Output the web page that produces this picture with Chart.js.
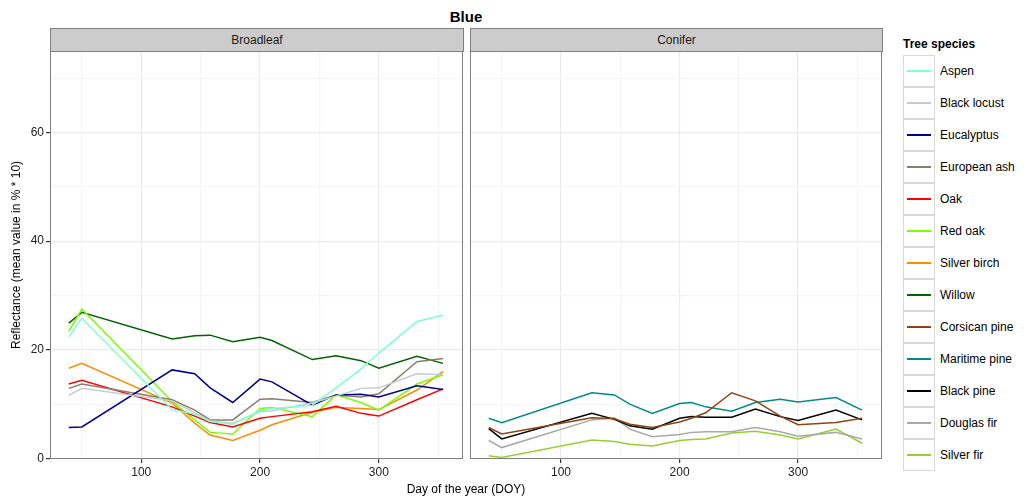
<!DOCTYPE html>
<html>
<head>
<meta charset="utf-8">
<script src="https://cdn.jsdelivr.net/npm/chart.js@4/dist/chart.umd.min.js"></script>
<style>
  body { margin: 0; background: #fff; font-family: "Liberation Sans", Arial, sans-serif; }
  #wrap { position: relative; width: 1024px; height: 498px; overflow: hidden; }
  .abs { position: absolute; }
  #title { left: 0; width: 932px; top: 8px; text-align: center; font-weight: bold; font-size: 15px; color: #000; }
  .strip { box-sizing: border-box; top: 28px; height: 24px; background: #cccccc; border: 1px solid #7f7f7f;
           text-align: center; font-size: 12px; line-height: 22px; color: #1a1a1a; }
  #ytitle { left: 16px; top: 255px; transform: translate(-50%, -50%) rotate(-90deg); white-space: nowrap; font-size: 12px; color: #000; }
  #xtitle { left: 50px; width: 832px; top: 482px; text-align: center; font-size: 12px; color: #000; }
  #legTitle { left: 903px; top: 37px; font-weight: bold; font-size: 12px; color: #000; }
  .key { box-sizing: border-box; left: 903px; width: 32px; height: 32px; border: 1px solid #d9d9d9; background: #fff; }
  .key span { position: absolute; left: 3px; right: 3px; top: 14px; height: 2px; }
  .lab { left: 940px; font-size: 12px; line-height: 32px; color: #000; white-space: nowrap; }
</style>
</head>
<body>
<div id="wrap">
  <div id="title" class="abs">Blue</div>
  <div class="abs strip" style="left:50px;width:414px;">Broadleaf</div>
  <div class="abs strip" style="left:470px;width:413px;">Conifer</div>
  <canvas id="left" class="abs" style="left:0;top:51px;" width="466" height="447"></canvas>
  <canvas id="right" class="abs" style="left:466px;top:51px;" width="420" height="447"></canvas>
  <div id="ytitle" class="abs">Reflectance (mean value in % * 10)</div>
  <div id="xtitle" class="abs">Day of the year (DOY)</div>
  <div id="legTitle" class="abs">Tree species</div>
  <div id="legend"></div>
</div>
<script>
const doy = [39, 50, 126, 145, 158, 177, 200, 210, 222, 244, 264, 285, 300, 332, 354];

// Broadleaf (no acquisition at DOY 222)
const aspen       = [22.4, 25.8, 9.0, 8.2, 6.8, 6.3, 8.8, 9.2, null, 9.8, 13.0, 16.5, 19.4, 25.2, 26.4];
const blackLocust = [11.6, 12.9, 10.6, 8.4, 6.9, 6.5, 8.6, 8.8, null, 10.2, 11.5, 12.9, 13.0, 15.6, 15.4];
const eucalyptus  = [5.7, 5.8, 16.3, 15.6, 13.0, 10.3, 14.6, 14.1, null, 9.8, 11.7, 11.8, 11.3, 13.4, 12.7];
const europeanAsh = [12.9, 13.7, 10.8, 8.9, 7.1, 7.1, 10.9, 11.0, null, 10.3, 11.7, 11.3, 11.9, 17.8, 18.4];
const oak         = [13.7, 14.4, 9.5, 7.8, 6.6, 5.8, 7.4, 7.7, null, 8.6, 9.6, 8.3, 7.8, 10.8, 12.8];
const redOak      = [23.4, 27.5, 10.5, 7.1, 4.8, 4.5, 9.2, 9.4, null, 7.7, 11.7, 10.3, 8.9, 13.7, 15.4];
const silverBirch = [16.6, 17.5, 10.2, 6.5, 4.3, 3.3, 5.2, 6.2, null, 8.5, 9.4, 9.2, 9.0, 12.6, 16.0];
const willow      = [24.9, 26.9, 22.0, 22.6, 22.7, 21.5, 22.3, 21.7, null, 18.2, 18.9, 18.0, 16.6, 18.8, 17.5];

// Conifer
const corsicanPine = [5.7, 4.5, 7.5, 7.3, 6.3, 5.7, 6.7, 7.4, 8.4, 12.1, 10.6, 7.8, 6.2, 6.6, 7.4];
const maritimePine = [7.4, 6.6, 12.1, 11.7, 10.0, 8.3, 10.1, 10.3, 9.5, 8.7, 10.3, 10.9, 10.4, 11.2, 8.9];
const blackPine    = [5.5, 3.6, 8.3, 7.2, 6.0, 5.4, 7.4, 7.7, 7.6, 7.6, 9.1, 7.7, 7.0, 8.9, 7.1];
const douglasFir   = [3.3, 2.0, 7.1, 7.5, 5.4, 4.0, 4.4, 4.8, 4.9, 4.9, 5.7, 4.9, 4.1, 4.8, 3.6];
const silverFir    = [0.5, 0.2, 3.4, 3.1, 2.6, 2.3, 3.3, 3.5, 3.6, 4.7, 5.0, 4.3, 3.6, 5.4, 2.8];

const broadleafNames = ['Aspen', 'Black locust', 'Eucalyptus', 'European ash', 'Oak', 'Red oak', 'Silver birch', 'Willow'];
const broadleafValues = [aspen, blackLocust, eucalyptus, europeanAsh, oak, redOak, silverBirch, willow];
const broadleafColors = ['#7fffd4', '#c1cdcd', '#00008b', '#8b7d6b', '#ff0000', '#7cfc00', '#ff8c00', '#006400'];

const coniferNames = ['Corsican pine', 'Maritime pine', 'Black pine', 'Douglas fir', 'Silver fir'];
const coniferValues = [corsicanPine, maritimePine, blackPine, douglasFir, silverFir];
const coniferColors = ['#8b4513', '#008b8b', '#000000', '#a9a9a9', '#9acd32'];

const xTicks = [50, 100, 150, 200, 250, 300, 350];
const yTicks = [0, 10, 20, 30, 40, 50, 60, 70];

const font = { family: '"Liberation Sans", Arial, sans-serif', size: 12 };

const panelBorder = {
  id: 'panelBorder',
  afterDraw(chart) {
    const a = chart.chartArea, c = chart.ctx;
    c.save();
    c.strokeStyle = '#7f7f7f';
    c.lineWidth = 1;
    c.strokeRect(a.left + 0.5, a.top + 0.5, a.right - a.left - 1, a.bottom - a.top - 1);
    c.restore();
  }
};

function noPad(s) {
  s.paddingTop = 0; s.paddingBottom = 0; s.paddingLeft = 0; s.paddingRight = 0;
}

function makeDatasets(names, values, colors) {
  return names.map((n, i) => ({
    label: n,
    data: doy.map((d, j) => ({ x: d, y: values[i][j] })),
    borderColor: colors[i],
    backgroundColor: colors[i],
    borderWidth: 1.5,
    pointRadius: 0,
    tension: 0,
    spanGaps: true
  }));
}

function makeChart(id, datasets, showY, pad) {
  return new Chart(document.getElementById(id), {
    type: 'line',
    data: { datasets },
    plugins: [panelBorder],
    options: {
      responsive: false,
      animation: false,
      events: [],
      layout: { padding: pad },
      plugins: { legend: { display: false }, tooltip: { enabled: false } },
      scales: {
        x: {
          type: 'linear', min: 23.2, max: 370.8,
          afterBuildTicks: s => { s.ticks = xTicks.map(v => ({ value: v })); },
          afterFit: s => { s.height = 39; noPad(s); },
          border: { display: false },
          grid: {
            color: c => c.tick && c.tick.value % 100 === 0 ? '#ebebeb' : '#f5f5f5',
            lineWidth: 1.2,
            tickLength: 4,
            tickColor: c => c.tick && c.tick.value % 100 === 0 ? '#333333' : 'rgba(0,0,0,0)'
          },
          ticks: {
            color: '#222', font, padding: 2, maxRotation: 0, autoSkip: false,
            callback: v => v % 100 === 0 ? String(v) : ''
          }
        },
        y: {
          type: 'linear', min: -0.1, max: 75,
          afterBuildTicks: s => { s.ticks = yTicks.map(v => ({ value: v })); },
          afterFit: s => { s.width = showY ? 50 : 4; noPad(s); },
          border: { display: false },
          grid: {
            color: c => c.tick && c.tick.value % 20 === 0 ? '#ebebeb' : '#f5f5f5',
            lineWidth: 1.2,
            drawTicks: showY,
            tickLength: 4,
            tickColor: c => c.tick && c.tick.value % 20 === 0 ? '#333333' : 'rgba(0,0,0,0)'
          },
          ticks: {
            display: showY, color: '#222', font, padding: 2, autoSkip: false,
            callback: v => v % 20 === 0 ? String(v) : ''
          }
        }
      }
    }
  });
}

makeChart('left', makeDatasets(broadleafNames, broadleafValues, broadleafColors), true, { top: 0, right: 3, left: 0, bottom: 0 });
makeChart('right', makeDatasets(coniferNames, coniferValues, coniferColors), false, { top: 0, right: 4, left: 0, bottom: 0 });

// legend
const legend = document.getElementById('legend');
const allNames = broadleafNames.concat(coniferNames);
const allColors = broadleafColors.concat(coniferColors);
allNames.forEach((n, i) => {
  const top = 55 + i * 32;
  const key = document.createElement('div');
  key.className = 'abs key';
  key.style.top = top + 'px';
  const line = document.createElement('span');
  line.style.background = allColors[i];
  key.appendChild(line);
  legend.appendChild(key);
  const lab = document.createElement('div');
  lab.className = 'abs lab';
  lab.style.top = top + 'px';
  lab.textContent = n;
  legend.appendChild(lab);
});
</script>
</body>
</html>
